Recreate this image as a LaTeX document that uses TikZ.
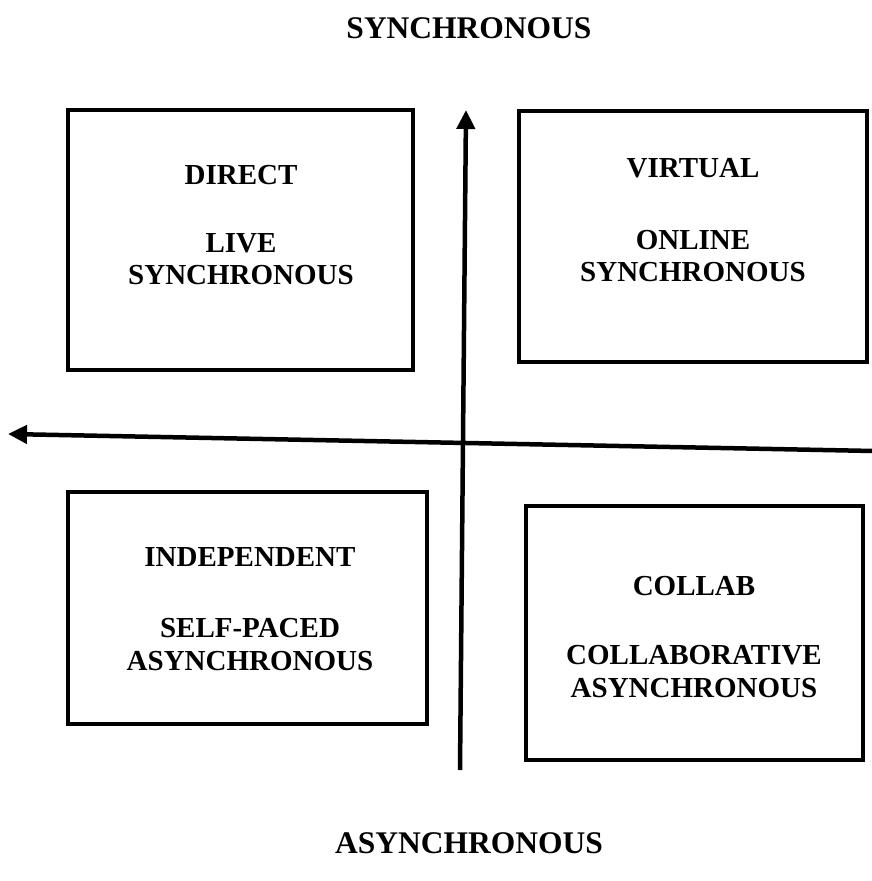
\documentclass[tikz,border=0pt]{standalone}
\usepackage{fontspec}
\setmainfont{Liberation Serif}
\usetikzlibrary{arrows.meta}
\tikzset{
  quadbox/.style={draw=black, line width=4.5pt, inner sep=0pt},
  boxtxt/.style={font=\bfseries\fontsize{29}{32}\selectfont, inner sep=0pt, anchor=center},
  axtxt/.style={font=\bfseries\fontsize{31.5}{36}\selectfont, inner sep=0pt, anchor=center},
  axis/.style={line width=4.5pt, -{Triangle[length=19pt,width=18pt]}}
}
\begin{document}
\begin{tikzpicture}[x=1pt,y=-1pt]
\useasboundingbox (0,0) rectangle (872,881);
% boxes
\node[quadbox, minimum width=345pt, minimum height=260pt] (b1) at (240.5,240) {};
\node[quadbox, minimum width=348pt, minimum height=251pt] (b2) at (693,236.5) {};
\node[quadbox, minimum width=359pt, minimum height=232pt] (b3) at (247.5,608) {};
\node[quadbox, minimum width=337pt, minimum height=254pt] (b4) at (694.5,633) {};
% box texts
\node[boxtxt] (t1a) at (241,175) {DIRECT};
\node[boxtxt] (t1b) at (241,243) {LIVE};
\node[boxtxt] (t1c) at (241,275) {SYNCHRONOUS};
\node[boxtxt] (t2a) at (693,168) {VIRTUAL};
\node[boxtxt] (t2b) at (693,240) {ONLINE};
\node[boxtxt] (t2c) at (693,272) {SYNCHRONOUS};
\node[boxtxt] (t3a) at (250,557) {INDEPENDENT};
\node[boxtxt] (t3b) at (250,628) {SELF-PACED};
\node[boxtxt] (t3c) at (250,661) {ASYNCHRONOUS};
\node[boxtxt] (t4a) at (694,586) {COLLAB};
\node[boxtxt] (t4b) at (694,655) {COLLABORATIVE};
\node[boxtxt] (t4c) at (694,688) {ASYNCHRONOUS};
% axis labels
\node[axtxt] (top) at (469,28) {SYNCHRONOUS};
\node[axtxt] (bot) at (469,843) {ASYNCHRONOUS};
% axes
\coordinate (vs) at (460,770);
\coordinate (ve) at (466,110);
\coordinate (hs) at (874,451);
\coordinate (he) at (8,434);
\draw[axis] (vs) -- (ve);
\draw[axis] (hs) -- (he);
\end{tikzpicture}
\end{document}
